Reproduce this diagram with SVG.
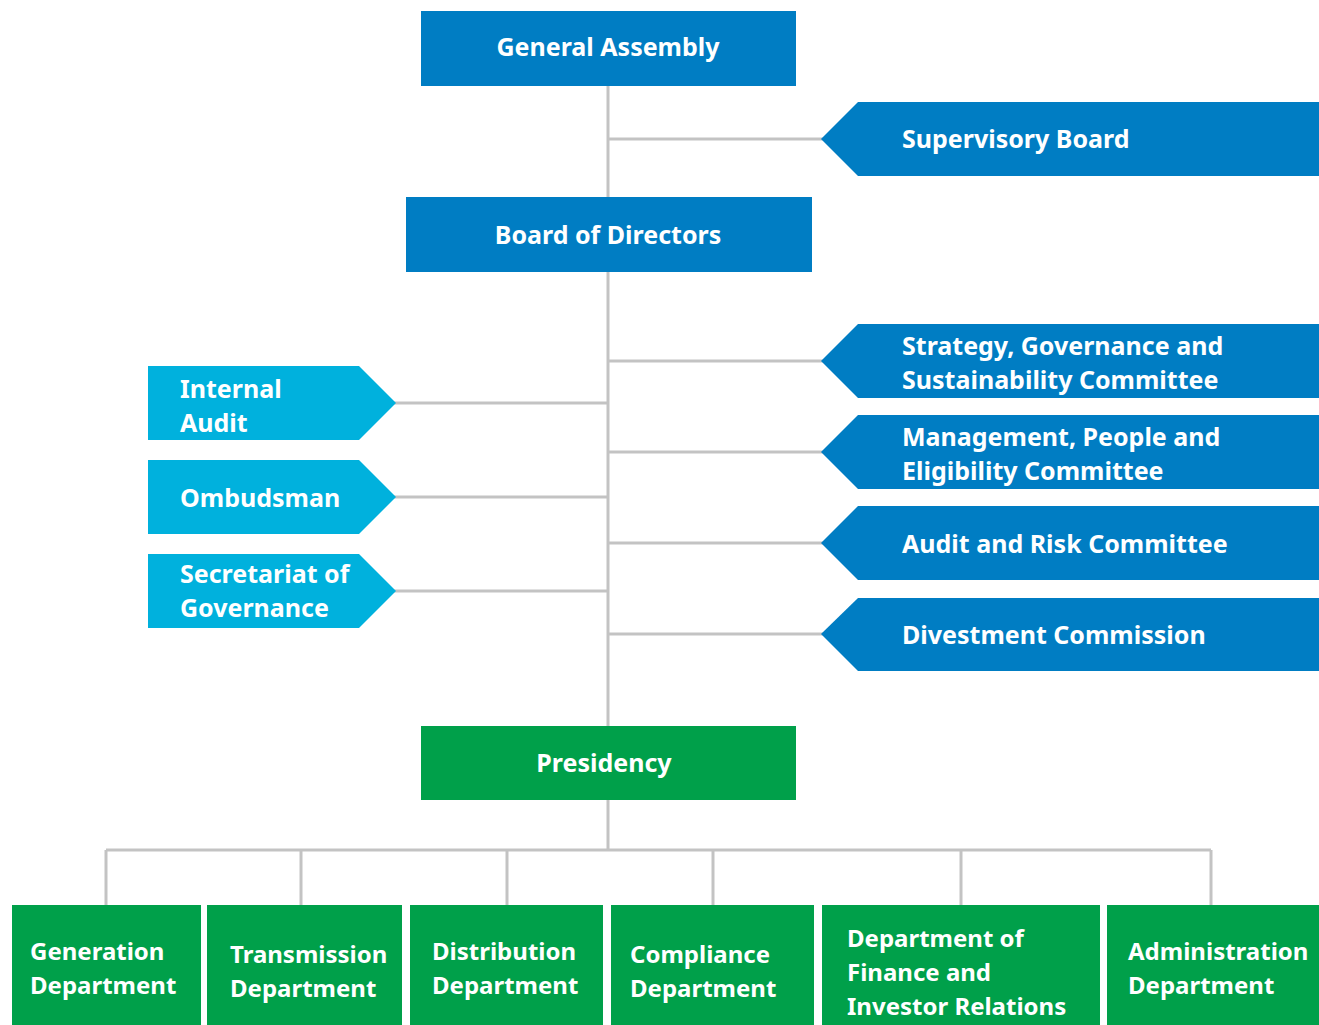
<svg xmlns="http://www.w3.org/2000/svg" width="1319" height="1025" viewBox="0 0 1319 1025">
<style>
.blue{fill:#007dc3}
.cyan{fill:#00b1dd}
.green{fill:#00a04a}
.t{font-family:"Noto Sans","Open Sans","DejaVu Sans",sans-serif;font-weight:bold;font-size:25px;fill:#ffffff}
.c{text-anchor:middle}
.b{font-size:24px;letter-spacing:0px}
.ln{stroke:#c3c3c3;stroke-width:3;fill:none}
</style>
<rect width="1319" height="1025" fill="#ffffff"/>
<g id="connectors">
<path class="ln" d="M608 86V726"/>
<path class="ln" d="M608 139H823"/>
<path class="ln" d="M608 361H823M608 452H823M608 543H823M608 634H823"/>
<path class="ln" d="M394 403H608M394 497H608M394 591H608"/>
<path class="ln" d="M608 800V850M106 850H1211M106 850V905M301 850V905M507 850V905M713 850V905M961 850V905M1211 850V905"/>
</g>
<g id="general-assembly"><rect class="blue" x="421" y="11" width="375" height="75"/><text class="t c" x="608" y="56">General Assembly</text></g>
<g id="supervisory-board"><polygon class="blue" points="821,139 858,102 1319,102 1319,176 858,176"/><text class="t" x="902" y="148">Supervisory Board</text></g>
<g id="board-of-directors"><rect class="blue" x="406" y="197" width="406" height="75"/><text class="t c" x="608" y="244">Board of Directors</text></g>
<g id="strategy-committee"><polygon class="blue" points="821,361 858,324 1319,324 1319,398 858,398"/><text class="t" x="902" y="355">Strategy, Governance and</text><text class="t" x="902" y="389">Sustainability Committee</text></g>
<g id="management-committee"><polygon class="blue" points="821,452 858,415 1319,415 1319,489 858,489"/><text class="t" x="902" y="446">Management, People and</text><text class="t" x="902" y="480">Eligibility Committee</text></g>
<g id="audit-risk-committee"><polygon class="blue" points="821,543 858,506 1319,506 1319,580 858,580"/><text class="t" x="902" y="553">Audit and Risk Committee</text></g>
<g id="divestment-commission"><polygon class="blue" points="821,634 858,598 1319,598 1319,671 858,671"/><text class="t" x="902" y="644">Divestment Commission</text></g>
<g id="internal-audit"><polygon class="cyan" points="148,366 359,366 396,403 359,440 148,440"/><text class="t" x="180" y="398">Internal</text><text class="t" x="180" y="432">Audit</text></g>
<g id="ombudsman"><polygon class="cyan" points="148,460 359,460 396,497 359,534 148,534"/><text class="t" x="180" y="507">Ombudsman</text></g>
<g id="secretariat"><polygon class="cyan" points="148,554 359,554 396,591 359,628 148,628"/><text class="t" x="180" y="583">Secretariat of</text><text class="t" x="180" y="617">Governance</text></g>
<g id="presidency"><rect class="green" x="421" y="726" width="375" height="74"/><text class="t c" x="604" y="772">Presidency</text></g>
<g id="generation"><rect class="green" x="12" y="905" width="189" height="120"/><text class="t b" x="30" y="960">Generation</text><text class="t b" x="30" y="994">Department</text></g>
<g id="transmission"><rect class="green" x="207" y="905" width="195" height="120"/><text class="t b" x="230" y="963">Transmission</text><text class="t b" x="230" y="997">Department</text></g>
<g id="distribution"><rect class="green" x="410" y="905" width="193" height="120"/><text class="t b" x="432" y="960">Distribution</text><text class="t b" x="432" y="994">Department</text></g>
<g id="compliance"><rect class="green" x="611" y="905" width="203" height="120"/><text class="t b" x="630" y="963">Compliance</text><text class="t b" x="630" y="997">Department</text></g>
<g id="finance"><rect class="green" x="822" y="905" width="278" height="120"/><text class="t b" x="847" y="947">Department of</text><text class="t b" x="847" y="981">Finance and</text><text class="t b" x="847" y="1015">Investor Relations</text></g>
<g id="administration"><rect class="green" x="1107" y="905" width="212" height="120"/><text class="t b" x="1128" y="960">Administration</text><text class="t b" x="1128" y="994">Department</text></g>
</svg>
